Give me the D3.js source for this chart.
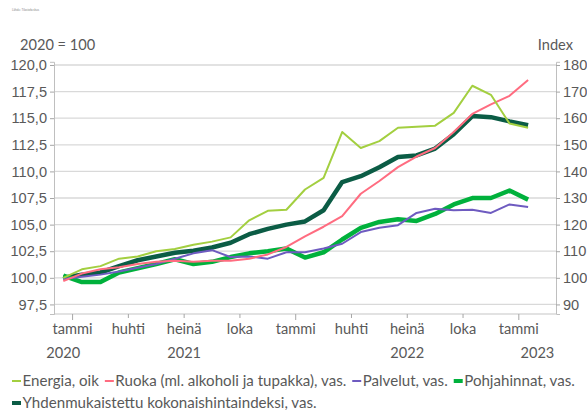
<!DOCTYPE html>
<html>
<head>
<meta charset="utf-8">
<script src="https://cdn.jsdelivr.net/npm/d3@7"></script>
<style>
  body { margin: 0; background: #fff; }
  svg { display: block; font-family: Lato, "Open Sans", sans-serif; }
  .lbl { fill: #595959; font-size: 14.6px; }
  .leg { fill: #595959; font-size: 15.1px; }
</style>
</head>
<body>
<svg width="587" height="410"></svg>
<script>
// categories: Dec 2020 .. Feb 2023 (last one has no data)
const months = ['2020-12','2021-01','2021-02','2021-03','2021-04','2021-05','2021-06','2021-07','2021-08','2021-09','2021-10','2021-11','2021-12',
  '2022-01','2022-02','2022-03','2022-04','2022-05','2022-06','2022-07','2022-08','2022-09','2022-10','2022-11','2022-12',
  '2023-01','2023-02'];
const tickMonths = ['2021-01','2021-04','2021-07','2021-10','2022-01','2022-04','2022-07','2022-10','2023-01'];
const tickLabels = ['tammi','huhti','heinä','loka','tammi','huhti','heinä','loka','tammi'];
const years = ['2020','2021','2022','2023'];
const leftTicks = [97.5,100,102.5,105,107.5,110,112.5,115,117.5,120];
const rightTicks = [90,100,110,120,130,140,150,160,170,180];

// values
const energia = [100,103.2,104.4,107.2,108,110,110.8,112.4,113.6,115.2,121.6,125.2,125.6,133.2,137.6,154.8,148.8,151.4,156.4,156.8,157.2,162,172.2,168.8,158,156.4];
const ruoka = [99.7,100.4,100.8,101.0,101.3,101.5,101.6,101.5,101.6,101.6,101.8,102.2,102.9,103.9,104.8,105.8,107.9,109.1,110.4,111.4,112.2,113.7,115.4,116.3,117.1,118.6];
const palvelut = [99.9,100.1,100.3,100.6,100.95,101.3,101.8,102.3,102.6,101.95,102.0,101.8,102.4,102.4,102.75,103.2,104.3,104.7,104.95,106.1,106.5,106.35,106.4,106.1,106.9,106.65];
const pohja = [100.2,99.6,99.6,100.5,100.9,101.3,101.75,101.3,101.5,101.95,102.3,102.5,102.75,101.9,102.4,103.6,104.7,105.25,105.5,105.35,106.0,106.9,107.5,107.5,108.2,107.35];
const yhden = [100.0,100.3,100.5,101.1,101.65,102.0,102.35,102.55,102.85,103.3,104.1,104.6,105.0,105.3,106.35,109.0,109.55,110.4,111.35,111.5,112.15,113.5,115.2,115.1,114.7,114.35];

const series = [
  {name: 'Yhdenmukaistettu kokonaishintaindeksi, vas.', vals: yhden, color: '#0b5c45', w: 4.5, axis: 'L'},
  {name: 'Pohjahinnat, vas.', vals: pohja, color: '#00b13c', w: 4.5, axis: 'L'},
  {name: 'Palvelut, vas.', vals: palvelut, color: '#6e5bc0', w: 2, axis: 'L'},
  {name: 'Ruoka (ml. alkoholi ja tupakka), vas.', vals: ruoka, color: '#ff6c80', w: 2, axis: 'L'},
  {name: 'Energia, oik', vals: energia, color: '#a3cf40', w: 2, axis: 'R'}
];
const legendOrder = ['Energia, oik','Ruoka (ml. alkoholi ja tupakka), vas.','Palvelut, vas.','Pohjahinnat, vas.','Yhdenmukaistettu kokonaishintaindeksi, vas.'];

const svg = d3.select('svg');

const x = d3.scaleBand().domain(months).range([54, 556]).paddingInner(0).paddingOuter(0);
const yL = d3.scaleLinear().domain([96.6, 120.3]).range([314, 61.8]);
const yR = d3.scaleLinear().domain([86.4, 181.2]).range([314, 61.8]);

// tiny source text top left
svg.append('text').attr('x', 12).attr('y', 11).attr('font-size', 3).attr('fill', '#888').text('Lähde: Tilastokeskus');

// gridlines
svg.append('g').selectAll('line').data(leftTicks).enter().append('line')
  .attr('x1', 54).attr('x2', 556)
  .attr('y1', d => yL(d)).attr('y2', d => yL(d))
  .attr('stroke', '#d9d9d9').attr('stroke-width', 1.3);

// bottom frame line
svg.append('line').attr('x1', 54).attr('x2', 556).attr('y1', 314).attr('y2', 314)
  .attr('stroke', '#d9d9d9').attr('stroke-width', 1.3);

const axL = svg.append('g').attr('transform', 'translate(54,0)')
  .call(d3.axisLeft(yL).tickValues(leftTicks).tickSize(4).tickPadding(3)
    .tickFormat(d => d.toFixed(1).replace('.', ',')));
const axR = svg.append('g').attr('transform', 'translate(556,0)')
  .call(d3.axisRight(yR).tickValues(rightTicks).tickSize(4).tickPadding(3));
[axL, axR].forEach(a => {
  a.select('.domain').attr('stroke', '#bfbfbf');
  a.selectAll('.tick line').attr('stroke', '#a6a6a6');
  a.selectAll('.tick text').attr('class', 'lbl').attr('font-family', null).attr('font-size', null);
});

// x ticks + month labels
svg.append('g').selectAll('line').data(tickMonths).enter().append('line')
  .attr('x1', d => x(d)).attr('x2', d => x(d))
  .attr('y1', 314).attr('y2', d => d.endsWith('-01') ? 320 : 318)
  .attr('stroke', '#a6a6a6');
svg.append('g').selectAll('text').data(tickMonths).enter().append('text')
  .attr('class', 'lbl').attr('text-anchor', 'middle')
  .attr('x', d => x(d)).attr('y', 334)
  .text((d, i) => tickLabels[i]);

// year labels, centred on the group of months
svg.append('g').selectAll('text').data(years).enter().append('text')
  .attr('class', 'lbl').attr('text-anchor', 'middle')
  .attr('x', yr => {
    const ms = months.filter(m => m.startsWith(yr));
    return (x(ms[0]) + x(ms[ms.length - 1]) + x.bandwidth()) / 2;
  })
  .attr('y', 358)
  .text(d => d);

// axis titles
svg.append('text').attr('class', 'lbl').attr('x', 20).attr('y', 50).text('2020 = 100');
svg.append('text').attr('class', 'lbl').attr('x', 573).attr('y', 50).attr('text-anchor', 'end').text('Index');

// lines
series.forEach(s => {
  const ys = s.axis === 'L' ? yL : yR;
  const line = d3.line()
    .x((d, i) => x(months[i]) + x.bandwidth() / 2)
    .y(d => ys(d));
  svg.append('path').datum(s.vals)
    .attr('d', line)
    .attr('fill', 'none')
    .attr('stroke', s.color)
    .attr('stroke-width', s.w)
    .attr('stroke-linejoin', 'round');
});

// legend
const byName = {};
series.forEach(s => byName[s.name] = s);
let lx = 12, ly = 386;
legendOrder.forEach((n, i) => {
  const s = byName[n];
  if (i === 4) { lx = 12; ly = 408; }
  svg.append('line').attr('x1', lx).attr('x2', lx + 9).attr('y1', ly - 5).attr('y2', ly - 5)
    .attr('stroke', s.color).attr('stroke-width', s.w === 2 ? 2 : 4);
  const t = svg.append('text').attr('class', 'leg').attr('x', lx + 10.5).attr('y', ly).text(n);
  lx += 10.5 + t.node().getComputedTextLength() + 6;
});
</script>
</body>
</html>
